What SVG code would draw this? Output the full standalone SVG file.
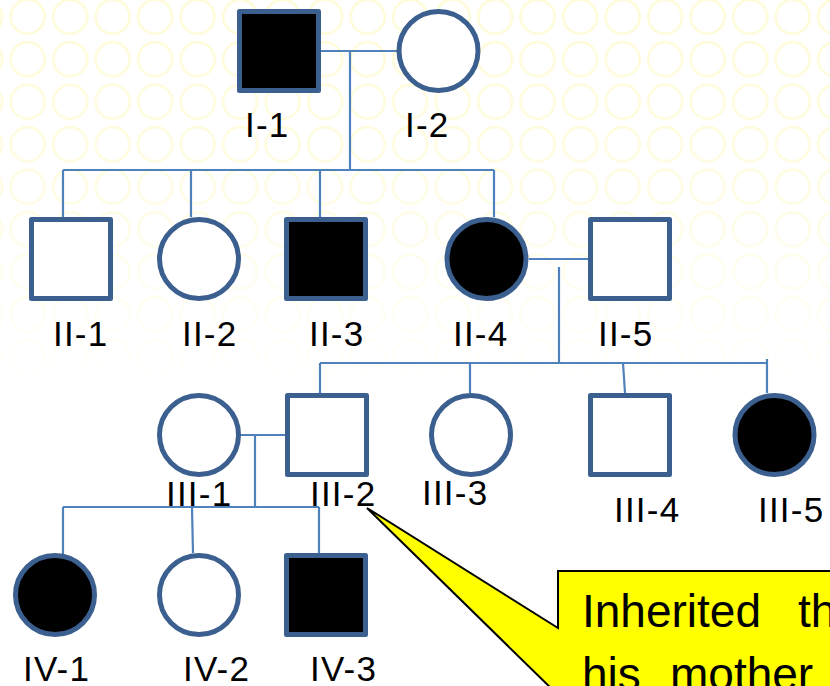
<svg xmlns="http://www.w3.org/2000/svg" width="830" height="686" viewBox="0 0 830 686">
<style>
.sym{stroke:#3B5F8E;stroke-width:5;stroke-linejoin:round}
.aff{fill:#000}
.un{fill:#fff}
.ln{stroke:#4F81BD;stroke-width:2.2;fill:none}
.lbl{font-family:"Liberation Sans",Arial,sans-serif;font-size:35px;letter-spacing:1.2px;fill:#000}
.call{font-family:"Liberation Sans",Arial,sans-serif;font-size:46px;fill:#000}
</style>
<defs>
<pattern id="bgp" x="6.4" y="-4.5" width="42.5" height="42.5" patternUnits="userSpaceOnUse">
<circle cx="21.25" cy="21.25" r="17" fill="none" stroke="#FFFBD6" stroke-width="2.5"/>
</pattern>
<linearGradient id="fade" x1="0" y1="0" x2="0" y2="400" gradientUnits="userSpaceOnUse">
<stop offset="0" stop-color="#fff" stop-opacity="1"/>
<stop offset="0.4" stop-color="#fff" stop-opacity="0.8"/>
<stop offset="0.75" stop-color="#fff" stop-opacity="0.35"/>
<stop offset="1" stop-color="#fff" stop-opacity="0"/>
</linearGradient>
<mask id="fm" maskUnits="userSpaceOnUse" x="0" y="0" width="830" height="686">
<rect x="0" y="0" width="830" height="686" fill="url(#fade)"/>
</mask>
</defs>
<rect x="0" y="0" width="830" height="686" fill="#fff"/>
<rect x="0" y="0" width="830" height="400" fill="url(#bgp)" mask="url(#fm)"/>

<g id="connectors">
<path class="ln" d="M321 51 H398"/>
<path class="ln" d="M350 51 V170"/>
<path class="ln" d="M63 170 H494"/>
<path class="ln" d="M63 170 V217 M191 170 V217 M320 170 V217 M494 170 V217"/>
<path class="ln" d="M529 259 H588"/>
<path class="ln" d="M559 267 V363"/>
<path class="ln" d="M320 363 H767"/>
<path class="ln" d="M320 363 V393 M470 363 V393 M623 363 L625 393 M767 359 V393"/>
<path class="ln" d="M241 435 H285"/>
<path class="ln" d="M255 435 V507"/>
<path class="ln" d="M63 507 H319"/>
<path class="ln" d="M63 507 V554 M192 507 L193 553 M319 507 V553"/>
</g>

<g id="I-1"><rect class="sym aff" x="239.5" y="11.5" width="79" height="79"/><text class="lbl" x="245" y="137">I-1</text></g>
<g id="I-2"><circle class="sym un" cx="438.5" cy="51" r="39.5"/><text class="lbl" x="405" y="137">I-2</text></g>

<g id="II-1"><rect class="sym un" x="31.5" y="219.5" width="79" height="79"/><text class="lbl" x="53" y="346">II-1</text></g>
<g id="II-2"><circle class="sym un" cx="199" cy="259" r="39.5"/><text class="lbl" x="182" y="346">II-2</text></g>
<g id="II-3"><rect class="sym aff" x="286.5" y="219.5" width="79" height="79"/><text class="lbl" x="309" y="346">II-3</text></g>
<g id="II-4"><circle class="sym aff" cx="486.5" cy="259" r="39.5"/><text class="lbl" x="453" y="346">II-4</text></g>
<g id="II-5"><rect class="sym un" x="590.5" y="219.5" width="79" height="79"/><text class="lbl" x="598" y="346">II-5</text></g>

<g id="III-1"><circle class="sym un" cx="199" cy="435" r="39.5"/><text class="lbl" x="166" y="506">III-1</text></g>
<g id="III-2"><rect class="sym un" x="287.5" y="395.5" width="79" height="79"/><text class="lbl" x="310" y="506">III-2</text></g>
<g id="III-3"><circle class="sym un" cx="471" cy="435" r="39.5"/><text class="lbl" x="422" y="505">III-3</text></g>
<g id="III-4"><rect class="sym un" x="590.5" y="395.5" width="79" height="79"/><text class="lbl" x="614" y="522">III-4</text></g>
<g id="III-5"><circle class="sym aff" cx="774.5" cy="435" r="39.5"/><text class="lbl" x="758" y="522">III-5</text></g>

<g id="IV-1"><circle class="sym aff" cx="55" cy="595" r="39.5"/><text class="lbl" x="23" y="681">IV-1</text></g>
<g id="IV-2"><circle class="sym un" cx="199" cy="595" r="39.5"/><text class="lbl" x="183" y="681">IV-2</text></g>
<g id="IV-3"><rect class="sym aff" x="286.5" y="555.5" width="79" height="79"/><text class="lbl" x="310" y="681">IV-3</text></g>

<g id="callout">
<path d="M558 571 H850 V720 H558 V695 L367 508 L558 628 Z" fill="#FFFF00" stroke="#000" stroke-width="2"/>
<text class="call" x="582" y="627">Inherited<tspan x="798">th</tspan></text>
<text class="call" x="582" y="690">his<tspan x="670">mother</tspan></text>
</g>
</svg>
